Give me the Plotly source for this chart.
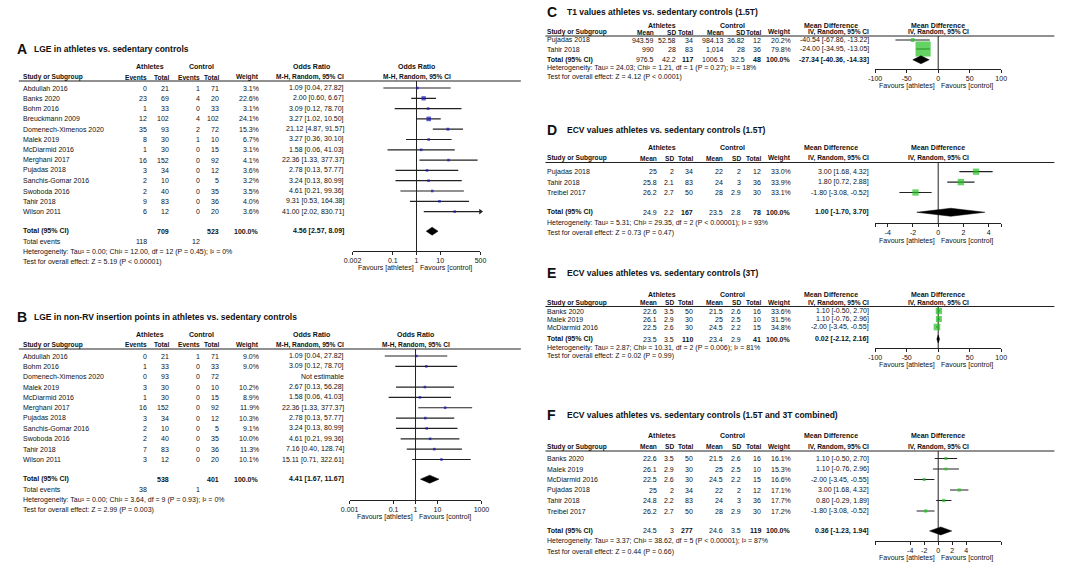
import math
import plotly.graph_objects as go

W, H = 1084, 569
FONT = "Arial, Liberation Sans, sans-serif"
TXT = "#111111"

# ---------------- Panel A : LGE in athletes vs. sedentary controls ----------------
a_study = ["Abdullah 2016", "Banks 2020", "Bohm 2016", "Breuckmann 2009", "Domenech-Ximenos 2020",
           "Malek 2019", "McDiarmid 2016", "Merghani 2017", "Pujadas 2018", "Sanchis-Gomar 2016",
           "Swoboda 2016", "Tahir 2018", "Wilson 2011"]
a_ev_ath = [0, 23, 1, 12, 35, 8, 1, 16, 3, 2, 2, 9, 6]
a_tot_ath = [21, 69, 33, 102, 93, 30, 30, 152, 34, 10, 40, 83, 12]
a_ev_ctl = [1, 4, 0, 4, 2, 1, 0, 0, 0, 0, 0, 0, 0]
a_tot_ctl = [71, 20, 33, 102, 72, 10, 15, 92, 12, 5, 35, 36, 20]
a_weight = [3.1, 22.6, 3.1, 24.1, 15.3, 6.7, 3.1, 4.1, 3.6, 3.2, 3.5, 4.0, 3.6]
a_or = [1.09, 2.00, 3.09, 3.27, 21.12, 3.27, 1.58, 22.36, 2.78, 3.24, 4.61, 9.31, 41.00]
a_lo = [0.04, 0.60, 0.12, 1.02, 4.87, 0.36, 0.06, 1.33, 0.13, 0.13, 0.21, 0.53, 2.02]
a_hi = [27.82, 6.67, 78.70, 10.50, 91.57, 30.10, 41.03, 377.37, 57.77, 80.99, 99.36, 164.38, 830.71]
a_total = {"ath": 709, "ctl": 523, "ev_ath": 118, "ev_ctl": 12, "est": 4.56, "lo": 2.57, "hi": 8.09}
a_het = "Heterogeneity: Tau² = 0.00; Chi² = 12.00, df = 12 (P = 0.45); I² = 0%"
a_test = "Test for overall effect: Z = 5.19 (P &lt; 0.00001)"
a_ticks = [0.002, 0.1, 1, 10, 500]
a_ticklabels = ["0.002", "0.1", "1", "10", "500"]

# ---------------- Panel B : LGE in non-RV insertion points ----------------
b_study = ["Abdullah 2016", "Bohm 2016", "Domenech-Ximenos 2020", "Malek 2019", "McDiarmid 2016",
           "Merghani 2017", "Pujadas 2018", "Sanchis-Gomar 2016", "Swoboda 2016", "Tahir 2018", "Wilson 2011"]
b_ev_ath = [0, 1, 0, 3, 1, 16, 3, 2, 2, 7, 3]
b_tot_ath = [21, 33, 93, 30, 30, 152, 34, 10, 40, 83, 12]
b_ev_ctl = [1, 0, 0, 0, 0, 0, 0, 0, 0, 0, 0]
b_tot_ctl = [71, 33, 72, 10, 15, 92, 12, 5, 35, 36, 20]
b_weight = [9.0, 9.0, None, 10.2, 8.9, 11.9, 10.3, 9.1, 10.0, 11.3, 10.1]
b_or = [1.09, 3.09, None, 2.67, 1.58, 22.36, 2.78, 3.24, 4.61, 7.16, 15.11]
b_lo = [0.04, 0.12, None, 0.13, 0.06, 1.33, 0.13, 0.13, 0.21, 0.40, 0.71]
b_hi = [27.82, 78.70, None, 56.28, 41.03, 377.37, 57.77, 80.99, 99.36, 128.74, 322.61]
b_total = {"ath": 538, "ctl": 401, "ev_ath": 38, "ev_ctl": 1, "est": 4.41, "lo": 1.67, "hi": 11.67}
b_het = "Heterogeneity: Tau² = 0.00; Chi² = 3.64, df = 9 (P = 0.93); I² = 0%"
b_test = "Test for overall effect: Z = 2.99 (P = 0.003)"
b_ticks = [0.001, 0.1, 1, 10, 1000]
b_ticklabels = ["0.001", "0.1", "1", "10", "1000"]

# ---------------- Panel C : T1 values (1.5T) ----------------
c_study = ["Pujadas 2018", "Tahir 2018"]
c_mean_ath = ["943.59", "990"]
c_sd_ath = ["52.58", "28"]
c_n_ath = [34, 83]
c_mean_ctl = ["984.13", "1,014"]
c_sd_ctl = ["36.82", "28"]
c_n_ctl = [12, 36]
c_weight = [20.2, 79.8]
c_md = [-40.54, -24.00]
c_lo = [-67.86, -34.95]
c_hi = [-13.22, -13.05]
c_total = {"m_ath": "976.5", "sd_ath": "42.2", "n_ath": 117, "m_ctl": "1006.5", "sd_ctl": "32.5", "n_ctl": 48,
           "est": -27.34, "lo": -40.36, "hi": -14.33}
c_het = "Heterogeneity: Tau² = 24.03; Chi² = 1.21, df = 1 (P = 0.27); I² = 18%"
c_test = "Test for overall effect: Z = 4.12 (P &lt; 0.0001)"
c_ticks = [-100, -50, 0, 50, 100]
c_ticklabels = ["-100", "-50", "0", "50", "100"]

# ---------------- Panel D : ECV values (1.5T) ----------------
d_study = ["Pujadas 2018", "Tahir 2018", "Treibel 2017"]
d_mean_ath = ["25", "25.8", "26.2"]
d_sd_ath = ["2", "2.1", "2.7"]
d_n_ath = [34, 83, 50]
d_mean_ctl = ["22", "24", "28"]
d_sd_ctl = ["2", "3", "2.9"]
d_n_ctl = [12, 36, 30]
d_weight = [33.0, 33.9, 33.1]
d_md = [3.00, 1.80, -1.80]
d_lo = [1.68, 0.72, -3.08]
d_hi = [4.32, 2.88, -0.52]
d_total = {"m_ath": "24.9", "sd_ath": "2.2", "n_ath": 167, "m_ctl": "23.5", "sd_ctl": "2.8", "n_ctl": 78,
           "est": 1.00, "lo": -1.70, "hi": 3.70}
d_het = "Heterogeneity: Tau² = 5.31; Chi² = 29.35, df = 2 (P &lt; 0.00001); I² = 93%"
d_test = "Test for overall effect: Z = 0.73 (P = 0.47)"
d_ticks = [-5, -4, -2, 0, 2, 4, 5]
d_ticklabels = ["", "-4", "-2", "0", "2", "4", ""]

# ---------------- Panel E : ECV values (3T) ----------------
e_study = ["Banks 2020", "Malek 2019", "McDiarmid 2016"]
e_mean_ath = ["22.6", "26.1", "22.5"]
e_sd_ath = ["3.5", "2.9", "2.6"]
e_n_ath = [50, 30, 30]
e_mean_ctl = ["21.5", "25", "24.5"]
e_sd_ctl = ["2.6", "2.5", "2.2"]
e_n_ctl = [16, 10, 15]
e_weight = [33.6, 31.5, 34.8]
e_md = [1.10, 1.10, -2.00]
e_lo = [-0.50, -0.76, -3.45]
e_hi = [2.70, 2.96, -0.55]
e_total = {"m_ath": "23.5", "sd_ath": "3.5", "n_ath": 110, "m_ctl": "23.4", "sd_ctl": "2.9", "n_ctl": 41,
           "est": 0.02, "lo": -2.12, "hi": 2.16}
e_het = "Heterogeneity: Tau² = 2.87; Chi² = 10.31, df = 2 (P = 0.006); I² = 81%"
e_test = "Test for overall effect: Z = 0.02 (P = 0.99)"
e_ticks = [-100, -50, 0, 50, 100]
e_ticklabels = ["-100", "-50", "0", "50", "100"]

# ---------------- Panel F : ECV values (1.5T and 3T combined) ----------------
f_study = ["Banks 2020", "Malek 2019", "McDiarmid 2016", "Pujadas 2018", "Tahir 2018", "Treibel 2017"]
f_mean_ath = ["22.6", "26.1", "22.5", "25", "24.8", "26.2"]
f_sd_ath = ["3.5", "2.9", "2.6", "2", "2.2", "2.7"]
f_n_ath = [50, 30, 30, 34, 83, 50]
f_mean_ctl = ["21.5", "25", "24.5", "22", "24", "28"]
f_sd_ctl = ["2.6", "2.5", "2.2", "2", "3", "2.9"]
f_n_ctl = [16, 10, 15, 12, 36, 30]
f_weight = [16.1, 15.3, 16.6, 17.1, 17.7, 17.2]
f_md = [1.10, 1.10, -2.00, 3.00, 0.80, -1.80]
f_lo = [-0.50, -0.76, -3.45, 1.68, -0.29, -3.08]
f_hi = [2.70, 2.96, -0.55, 4.32, 1.89, -0.52]
f_total = {"m_ath": "24.5", "sd_ath": "3", "n_ath": 277, "m_ctl": "24.6", "sd_ctl": "3.5", "n_ctl": 119,
           "est": 0.36, "lo": -1.23, "hi": 1.94}
f_het = "Heterogeneity: Tau² = 3.37; Chi² = 38.62, df = 5 (P &lt; 0.00001); I² = 87%"
f_test = "Test for overall effect: Z = 0.44 (P = 0.66)"
f_ticks = [-9, -4, -2, 0, 2, 4, 9]
f_ticklabels = ["", "-4", "-2", "0", "2", "4", ""]

# ---------------- layout geometry (pixels) ----------------
LCOL = dict(letter=7, title=24, name=13, c1=141, c2=164, c3=195, c4=214, w=255, ci=341,
            grpA=143, grpC=196, colhdr=307, line0=10, line1=520)
RCOL = dict(letter=546, title=566, name=546, c1=659, c2=677, c3=696, c4=726, c5=745, c6=765,
            w=795, ci=875, grpA=663, grpC=735, colhdr=835, line0=545, line1=1062, fx0=880, fx1=1008)
RCOL_C = dict(RCOL, c1=656, c2=679, c4=727, c5=749)

GA = dict(title=49, hdr1=66, hdr2=77, line=81, row0=88, dy=10.3, total_idx=13.9, tail_dy=10.3,
          axis=251, fav=268, fx0=349, fx1=479)
GB = dict(title=317, hdr1=334, hdr2=344.5, line=349, row0=356, dy=10.35, total_idx=11.9, tail_dy=10.35,
          axis=500, fav=517, fx0=346, fx1=480)
GC = dict(title=12, hdr1=25, hdr2=32.5, line=36, row0=40, dy=9.0, total_idx=2.2, tail_dy=8.7,
          axis=69, fav=86)
GD = dict(title=130, hdr1=147, hdr2=158, line=162.5, row0=171.7, dy=10.4, total_idx=3.9, tail_dy=10.4,
          axis=223, fav=240.5)
GE = dict(title=273, hdr1=294, hdr2=302.5, line=306.5, row0=311, dy=8.0, total_idx=3.5, tail_dy=8.7,
          axis=348, fav=365)
GF = dict(title=415, hdr1=435, hdr2=446.5, line=451, row0=458.5, dy=10.5, total_idx=6.9, tail_dy=10.5,
          axis=541, fav=558)

HDR2 = 6.6  # font size of second header row

fig = go.Figure()
annotations = []
shapes = []
layout_axes = {}


def txt(x, y, s, anchor="left", bold=False, size=7, xref="paper", xshift=0):
    annotations.append(dict(
        x=(x / W) if xref == "paper" else x, y=1 - y / H, xref=xref, yref="paper",
        text=f"<b>{s}</b>" if bold else s, showarrow=False, xanchor=anchor, yanchor="middle",
        xshift=xshift, borderpad=0, font=dict(size=size, family=FONT, color=TXT)))


def hline(x0, x1, y):
    shapes.append(dict(type="line", xref="paper", yref="paper", x0=x0 / W, x1=x1 / W,
                       y0=1 - y / H, y1=1 - y / H, line=dict(color="#222222", width=1)))


def fmt_ci(e, l, h):
    return f"{e:.2f} [{l:.2f}, {h:.2f}]"


def forest(k, g, fx0, fx1, est, lo, hi, wt, tot, color, log, xmin, xmax, ticks, ticklabels, ref):
    xa = "x" if k == 1 else f"x{k}"
    ya = "y" if k == 1 else f"y{k}"
    idx = lambda p: (p - g["row0"]) / g["dy"]
    top, bot = idx(g["line"]), idx(g["axis"])
    lx, ly, mx, my, ms, ax_, ay_ = [], [], [], [], [], [], []
    for i, (e, l, h, w) in enumerate(zip(est, lo, hi, wt)):
        if e is None:
            continue
        lx += [max(l, xmin), min(h, xmax), None]
        ly += [i, i, None]
        mx.append(e)
        my.append(i)
        ms.append(max(2.6, 0.19 * w))
        if h > xmax:
            ax_.append(xmax)
            ay_.append(i)
    fig.add_trace(go.Scatter(x=[ref, ref], y=[top, bot], mode="lines", line=dict(color="#222222", width=1),
                             xaxis=xa, yaxis=ya, hoverinfo="skip", showlegend=False, cliponaxis=False))
    fig.add_trace(go.Scatter(x=lx, y=ly, mode="lines", line=dict(color="#222222", width=1.2),
                             xaxis=xa, yaxis=ya, hoverinfo="skip", showlegend=False, cliponaxis=False))
    fig.add_trace(go.Scatter(x=mx, y=my, mode="markers",
                             marker=dict(symbol="square", size=ms, color=color, line=dict(width=0)),
                             xaxis=xa, yaxis=ya, hoverinfo="skip", showlegend=False, cliponaxis=False))
    if ax_:
        fig.add_trace(go.Scatter(x=ax_, y=ay_, mode="markers",
                                 marker=dict(symbol="triangle-right", size=5, color="#222222"),
                                 xaxis=xa, yaxis=ya, hoverinfo="skip", showlegend=False, cliponaxis=False))
    ti = g["total_idx"]
    hh = 4.0 / g["dy"]
    fig.add_trace(go.Scatter(x=[tot["lo"], tot["est"], tot["hi"], tot["est"], tot["lo"]],
                             y=[ti, ti - hh, ti, ti + hh, ti], mode="lines", fill="toself",
                             fillcolor="black", line=dict(color="black", width=0.5),
                             xaxis=xa, yaxis=ya, hoverinfo="skip", showlegend=False, cliponaxis=False))
    key = "" if k == 1 else str(k)
    layout_axes["xaxis" + key] = dict(
        domain=[fx0 / W, fx1 / W], anchor=ya, type="log" if log else "linear",
        range=[math.log10(xmin), math.log10(xmax)] if log else [xmin, xmax],
        tickmode="array", tickvals=ticks, ticktext=ticklabels, showline=True, linecolor="#222222",
        linewidth=1, ticks="outside", ticklen=3, tickcolor="#222222",
        tickfont=dict(size=7, family=FONT, color=TXT), showgrid=False, zeroline=False, fixedrange=True)
    layout_axes["yaxis" + key] = dict(domain=[1 - g["axis"] / H, 1 - g["line"] / H], anchor=xa,
                                      range=[bot, top], visible=False, fixedrange=True)
    txt(0, g["fav"], "Favours [athletes]", "right", xref=xa, xshift=-2)
    txt(0, g["fav"], "Favours [control]", "left", xref=xa, xshift=2)
    return xa


def left_panel(k, letter, title, g, study, ev_a, tot_a, ev_c, tot_c, wt, est, lo, hi, tot, het, test,
               ticks, ticklabels):
    C = LCOL
    txt(C["letter"], g["title"], letter, "left", True, 14)
    txt(C["title"], g["title"], title, "left", True, 8.5)
    xa = forest(k, g, g["fx0"], g["fx1"], est, lo, hi, [w or 0 for w in wt], tot, "#1414b4", True,
                ticks[0], ticks[-1], ticks, ticklabels, 1)
    txt(C["grpA"], g["hdr1"], "Athletes", "center", True)
    txt(C["grpC"], g["hdr1"], "Control", "center", True)
    txt(C["colhdr"], g["hdr1"], "Odds Ratio", "center", True)
    txt(0, g["hdr1"], "<b>Odds Ratio</b>", "center", xref=xa)
    txt(C["name"], g["hdr2"], "Study or Subgroup", "left", True, HDR2)
    txt(C["c1"], g["hdr2"], "Events", "right", True, HDR2)
    txt(C["c2"], g["hdr2"], "Total", "right", True, HDR2)
    txt(C["c3"], g["hdr2"], "Events", "right", True, HDR2)
    txt(C["c4"], g["hdr2"], "Total", "right", True, HDR2)
    txt(C["w"], g["hdr2"], "Weight", "right", True, HDR2)
    txt(C["ci"], g["hdr2"], "M-H, Random, 95% CI", "right", True, HDR2)
    txt(0, g["hdr2"], "<b>M-H, Random, 95% CI</b>", "center", size=HDR2, xref=xa)
    hline(C["line0"], C["line1"], g["line"])
    for i in range(len(study)):
        y = g["row0"] + i * g["dy"]
        txt(C["name"], y, study[i])
        txt(C["c1"], y, str(ev_a[i]), "right")
        txt(C["c2"], y, str(tot_a[i]), "right")
        txt(C["c3"], y, str(ev_c[i]), "right")
        txt(C["c4"], y, str(tot_c[i]), "right")
        if wt[i] is not None:
            txt(C["w"], y, f"{wt[i]:.1f}%", "right")
        txt(C["ci"], y, fmt_ci(est[i], lo[i], hi[i]) if est[i] is not None else "Not estimable", "right")
    yt = g["row0"] + g["total_idx"] * g["dy"]
    txt(C["name"], yt, "Total (95% CI)", "left", True)
    txt(C["c2"], yt, str(tot["ath"]), "right", True)
    txt(C["c4"], yt, str(tot["ctl"]), "right", True)
    txt(C["w"], yt, "100.0%", "right", True)
    txt(C["ci"], yt, fmt_ci(tot["est"], tot["lo"], tot["hi"]), "right", True)
    y1 = yt + g["tail_dy"]
    txt(C["name"], y1, "Total events")
    txt(C["c1"], y1, str(tot["ev_ath"]), "right")
    txt(C["c3"], y1, str(tot["ev_ctl"]), "right")
    txt(C["name"], y1 + g["tail_dy"], het)
    txt(C["name"], y1 + 2 * g["tail_dy"], test)


def right_panel(k, letter, title, g, C, study, m_a, s_a, n_a, m_c, s_c, n_c, wt, est, lo, hi, tot, het, test,
                ticks, ticklabels):
    txt(C["letter"], g["title"], letter, "left", True, 14)
    txt(C["title"], g["title"], title, "left", True, 8.5)
    xa = forest(k, g, C["fx0"], C["fx1"], est, lo, hi, wt, tot, "#22c022", False,
                ticks[0], ticks[-1], ticks, ticklabels, 0)
    txt(C["grpA"], g["hdr1"], "Athletes", "center", True)
    txt(C["grpC"], g["hdr1"], "Control", "center", True)
    txt(C["colhdr"], g["hdr1"], "Mean Difference", "center", True)
    txt(0, g["hdr1"], "<b>Mean Difference</b>", "center", xref=xa)
    txt(C["name"], g["hdr2"], "Study or Subgroup", "left", True, HDR2)
    for key, lab in [("c1", "Mean"), ("c2", "SD"), ("c3", "Total"), ("c4", "Mean"), ("c5", "SD"),
                     ("c6", "Total"), ("w", "Weight"), ("ci", "IV, Random, 95% CI")]:
        txt(C[key], g["hdr2"], lab, "right", True, HDR2)
    txt(0, g["hdr2"], "<b>IV, Random, 95% CI</b>", "center", size=HDR2, xref=xa)
    hline(C["line0"], C["line1"], g["line"])
    for i in range(len(study)):
        y = g["row0"] + i * g["dy"]
        txt(C["name"], y, study[i])
        txt(C["c1"], y, m_a[i], "right")
        txt(C["c2"], y, s_a[i], "right")
        txt(C["c3"], y, str(n_a[i]), "right")
        txt(C["c4"], y, m_c[i], "right")
        txt(C["c5"], y, s_c[i], "right")
        txt(C["c6"], y, str(n_c[i]), "right")
        txt(C["w"], y, f"{wt[i]:.1f}%", "right")
        txt(C["ci"], y, fmt_ci(est[i], lo[i], hi[i]), "right")
    yt = g["row0"] + g["total_idx"] * g["dy"]
    txt(C["name"], yt, "Total (95% CI)", "left", True)
    txt(C["c1"], yt, tot["m_ath"], "right")
    txt(C["c2"], yt, tot["sd_ath"], "right")
    txt(C["c3"], yt, str(tot["n_ath"]), "right", True)
    txt(C["c4"], yt, tot["m_ctl"], "right")
    txt(C["c5"], yt, tot["sd_ctl"], "right")
    txt(C["c6"], yt, str(tot["n_ctl"]), "right", True)
    txt(C["w"], yt, "100.0%", "right", True)
    txt(C["ci"], yt, fmt_ci(tot["est"], tot["lo"], tot["hi"]), "right", True)
    txt(C["name"], yt + g["tail_dy"], het)
    txt(C["name"], yt + 2 * g["tail_dy"], test)


left_panel(1, "A", "LGE in athletes vs. sedentary controls", GA, a_study, a_ev_ath, a_tot_ath, a_ev_ctl,
           a_tot_ctl, a_weight, a_or, a_lo, a_hi, a_total, a_het, a_test, a_ticks, a_ticklabels)
left_panel(2, "B", "LGE in non-RV insertion points in athletes vs. sedentary controls", GB, b_study,
           b_ev_ath, b_tot_ath, b_ev_ctl, b_tot_ctl, b_weight, b_or, b_lo, b_hi, b_total, b_het, b_test,
           b_ticks, b_ticklabels)
right_panel(3, "C", "T1 values athletes vs. sedentary controls (1.5T)", GC, RCOL_C, c_study, c_mean_ath,
            c_sd_ath, c_n_ath, c_mean_ctl, c_sd_ctl, c_n_ctl, c_weight, c_md, c_lo, c_hi, c_total, c_het,
            c_test, c_ticks, c_ticklabels)
right_panel(4, "D", "ECV values athletes vs. sedentary controls (1.5T)", GD, RCOL, d_study, d_mean_ath,
            d_sd_ath, d_n_ath, d_mean_ctl, d_sd_ctl, d_n_ctl, d_weight, d_md, d_lo, d_hi, d_total, d_het,
            d_test, d_ticks, d_ticklabels)
right_panel(5, "E", "ECV values athletes vs. sedentary controls (3T)", GE, RCOL, e_study, e_mean_ath,
            e_sd_ath, e_n_ath, e_mean_ctl, e_sd_ctl, e_n_ctl, e_weight, e_md, e_lo, e_hi, e_total, e_het,
            e_test, e_ticks, e_ticklabels)
right_panel(6, "F", "ECV values athletes vs. sedentary controls (1.5T and 3T combined)", GF, RCOL, f_study,
            f_mean_ath, f_sd_ath, f_n_ath, f_mean_ctl, f_sd_ctl, f_n_ctl, f_weight, f_md, f_lo, f_hi,
            f_total, f_het, f_test, f_ticks, f_ticklabels)

fig.update_layout(
    width=W, height=H, autosize=False, margin=dict(l=0, r=0, t=0, b=0),
    paper_bgcolor="white", plot_bgcolor="white", showlegend=False,
    font=dict(family=FONT, size=7, color=TXT),
    annotations=annotations, shapes=shapes, **layout_axes)

fig.write_html("out.html", config={"displayModeBar": False, "staticPlot": True},
               post_script="document.body.style.margin='0px';")
